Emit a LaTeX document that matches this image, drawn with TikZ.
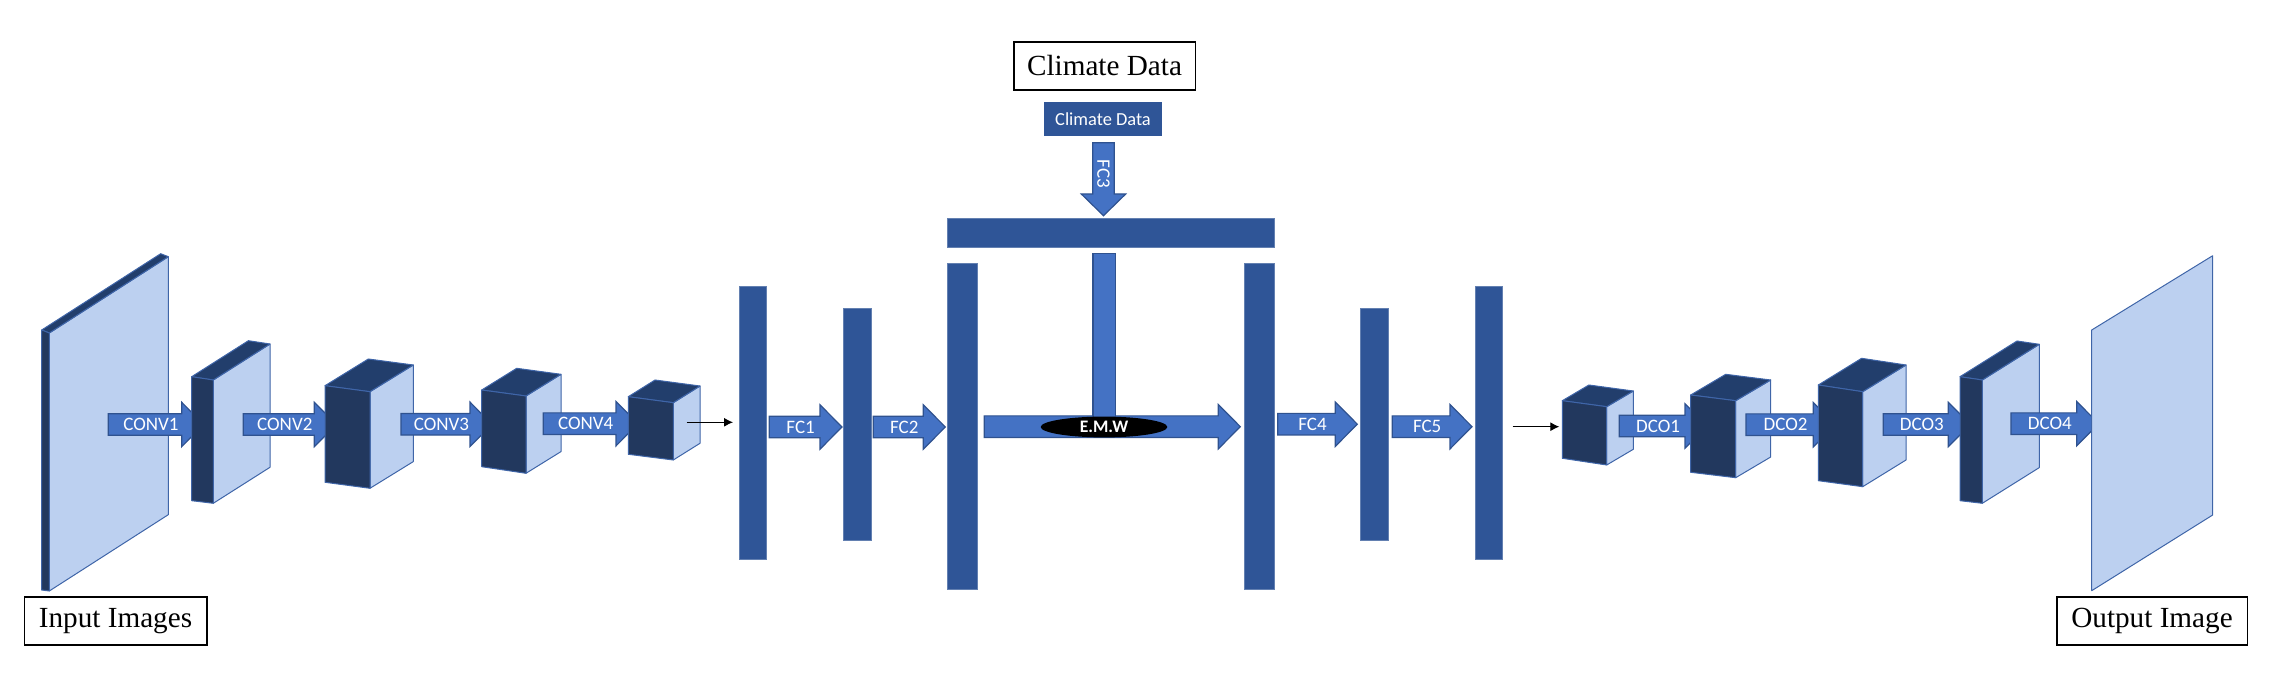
\documentclass[tikz,border=0pt]{standalone}
\usepackage{fontspec}
\setmainfont{Liberation Serif}
\newfontfamily\calfont{Carlito}
\usetikzlibrary{calc,fit,shapes.geometric,arrows.meta}
\definecolor{barblue}{HTML}{2F5597}
\definecolor{arrowfill}{HTML}{4472C4}
\definecolor{arrowedge}{HTML}{2F528F}
\definecolor{cubefront}{HTML}{22385E}
\definecolor{cubetop}{HTML}{223E6C}
\definecolor{cubelight}{HTML}{BCD0F0}
\definecolor{cubeline}{HTML}{3F65A8}
\tikzset{
  barstyle/.style={fill=barblue, draw=barblue!75!white, line width=0.4pt, inner sep=0pt},
  arrbody/.style={fill=arrowfill, draw=arrowedge, line width=0.6pt, line join=miter},
  arrlabel/.style={text=white, font=\calfont\fontsize{9.5}{10}\selectfont, inner sep=0pt},
  frontface/.style={fill=cubefront, draw=cubeline, line width=0.5pt, line join=round},
  topface/.style={fill=cubetop, draw=cubeline, line width=0.5pt, line join=round},
  sideface/.style={fill=cubelight, draw=cubeline, line width=0.5pt, line join=round},
  titlebox/.style={draw=black, line width=0.8pt, font=\fontsize{14.6}{17}\selectfont, inner sep=0pt},
  thinarrow/.style={-{Latex[length=4.5pt,width=4.5pt]}, line width=0.5pt, black},
}
% cube: #1 name, #2 a (front TL), #3 b (front TR), #4 c (front BR), #5 d (front BL), #6 depth vector
\newcommand\cubebox[6]{%
  \coordinate (#1-a) at (#2); \coordinate (#1-b) at (#3);
  \coordinate (#1-c) at (#4); \coordinate (#1-d) at (#5);
  \coordinate (#1-e) at ($(#1-a)+(#6)$);
  \coordinate (#1-f) at ($(#1-b)+(#6)$);
  \coordinate (#1-g) at ($(#1-c)+(#6)$);
  \draw[sideface] (#1-b) -- (#1-f) -- (#1-g) -- (#1-c) -- cycle;
  \draw[topface] (#1-a) -- (#1-b) -- (#1-f) -- (#1-e) -- cycle;
  \draw[frontface] (#1-a) -- (#1-b) -- (#1-c) -- (#1-d) -- cycle;
  \coordinate (#1) at ($(#1-a)!0.5!(#1-c)$);}
% block arrow: #1 name, #2 x start, #3 x head start, #4 y centre, #5 label
\newcommand\blockarr[5]{%
  \draw[arrbody] (#2,#4-10.8) -- (#3,#4-10.8) -- (#3,#4-22.2) -- (#3+22,#4)
     -- (#3,#4+22.2) -- (#3,#4+10.8) -- (#2,#4+10.8) -- cycle;
  \node[arrlabel] (#1) at ({(#2+#3)/2+6},#4) {#5};}
\begin{document}
\begin{tikzpicture}[x=0.5pt,y=-0.5pt]
\useasboundingbox (0,0) rectangle (2270,688);

% ---------- encoder ----------
\cubebox{inimg}{41.7,330}{49.3,333}{49.3,591}{41.7,590}{119,-76.3}
\blockarr{conv1}{108.3}{181.7}{424.5}{CONV1}
\cubebox{e1}{191.7,376.7}{213.3,380}{213.3,503.3}{191.7,500.7}{56.7,-36}
\blockarr{conv2}{243.3}{314.3}{424.5}{CONV2}
\cubebox{e2}{325,385.7}{370,391.7}{370,488.3}{325,482.3}{43.3,-26.7}
\blockarr{conv3}{401}{470}{424.3}{CONV3}
\cubebox{e3}{481.7,390}{526,396}{526,473.3}{481.7,466.7}{35,-21.7}
\blockarr{conv4}{543.3}{616}{423.7}{CONV4}
\cubebox{e4}{628.3,396.7}{673.3,402.7}{673.3,460}{628.3,454.3}{26.7,-16.7}
\coordinate (e4out) at (686.7,422.3);

% ---------- fully connected part ----------
\node[barstyle, fit={(739,286.7) (766.7,559)}] (bar1) {};
\draw[thinarrow, shorten >=2.8pt] (e4out) -- (bar1.west |- e4out);
\blockarr{fc1}{769.3}{820}{427}{FC1}
\node[barstyle, fit={(843.3,308.3) (871,540.7)}] (bar2) {};
\blockarr{fc2}{873.3}{923.3}{427}{FC2}
\node[barstyle, fit={(947.5,263.3) (977.3,589)}] (bar3) {};
\node[barstyle, fit={(947.3,218.3) (1274.3,247.7)}] (topbar) {};

% climate data branch
\node[fill=barblue, minimum width=59pt, minimum height=16.7pt, inner sep=0pt,
      text=white, font=\calfont\fontsize{9.2}{11}\selectfont] (climate) at (1103,119) {Climate Data};
\draw[arrbody] (1092.7,142.7) -- (1114.3,142.7) -- (1114.3,194) -- (1125.7,194)
   -- (1103.5,215.7) -- (1081.3,194) -- (1092.7,194) -- cycle;
\node[arrlabel, rotate=-90] (fc3) at (1103.5,174) {FC3};

% E.M.W merge
\blockarr{emwarrow}{984.3}{1218.3}{426.7}{}
\node[fill=arrowfill, inner sep=0pt, fit={(1093.3,254) (1114.7,417)}] (stem) {};
\draw[arrowedge, line width=0.6pt] (stem.south west) -- (stem.north west) -- (stem.north east) -- (stem.south east);
\node[ellipse, fill=black, minimum width=63.3pt, minimum height=10.4pt, inner sep=0pt,
      text=white, font=\calfont\bfseries\fontsize{8.8}{10}\selectfont] (emw) at (1104,427) {E.M.W};

\node[barstyle, fit={(1244,263.3) (1274.3,589)}] (bar4) {};
\blockarr{fc4}{1277.7}{1335.3}{424.2}{FC4}
\node[barstyle, fit={(1360,308.3) (1388,540.7)}] (bar5) {};
\blockarr{fc5}{1392.3}{1450}{426.7}{FC5}
\node[barstyle, fit={(1475,286.7) (1502.7,559)}] (bar6) {};

% ---------- decoder ----------
\coordinate (d1in) at (1562.3,426.7);
\draw[thinarrow, shorten <=4.8pt, shorten >=1.5pt] (bar6.east |- d1in) -- (d1in);
\cubebox{d1}{1562.3,400.7}{1606.7,406.7}{1606.7,465}{1562.3,458.3}{26.6,-15.7}
\blockarr{dco1}{1619.3}{1685}{426}{DCO1}
\cubebox{d2}{1690.7,395}{1735.7,400.7}{1735.7,477.7}{1690.7,472.3}{35,-20.7}
\blockarr{dco2}{1746}{1813.3}{424.7}{DCO2}
\cubebox{d3}{1818.3,385}{1862.7,391.7}{1862.7,486.7}{1818.3,480.7}{43.3,-26.7}
\blockarr{dco3}{1883.3}{1948.3}{424.5}{DCO3}
\cubebox{d4}{1960,376.7}{1982.3,380}{1982.3,503.3}{1960,500.7}{57,-35.7}
\blockarr{dco4}{2011}{2076.7}{423.7}{DCO4}
\draw[sideface] (2091.7,330) -- (2212.7,255.7) -- (2212.7,515) -- (2091.7,590.7) -- cycle;
\coordinate (outimg) at (2152.2,422.8);

% ---------- captions ----------
\node[titlebox, minimum width=91.2pt, minimum height=24.1pt] (inlabel) at (115.5,620.9) {Input Images};
\node[titlebox, minimum width=90.8pt, minimum height=24.1pt] (climlabel) at (1104.5,65.9) {Climate Data};
\node[titlebox, minimum width=95.3pt, minimum height=24.1pt] (outlabel) at (2152,620.9) {Output Image};
\end{tikzpicture}
\end{document}
